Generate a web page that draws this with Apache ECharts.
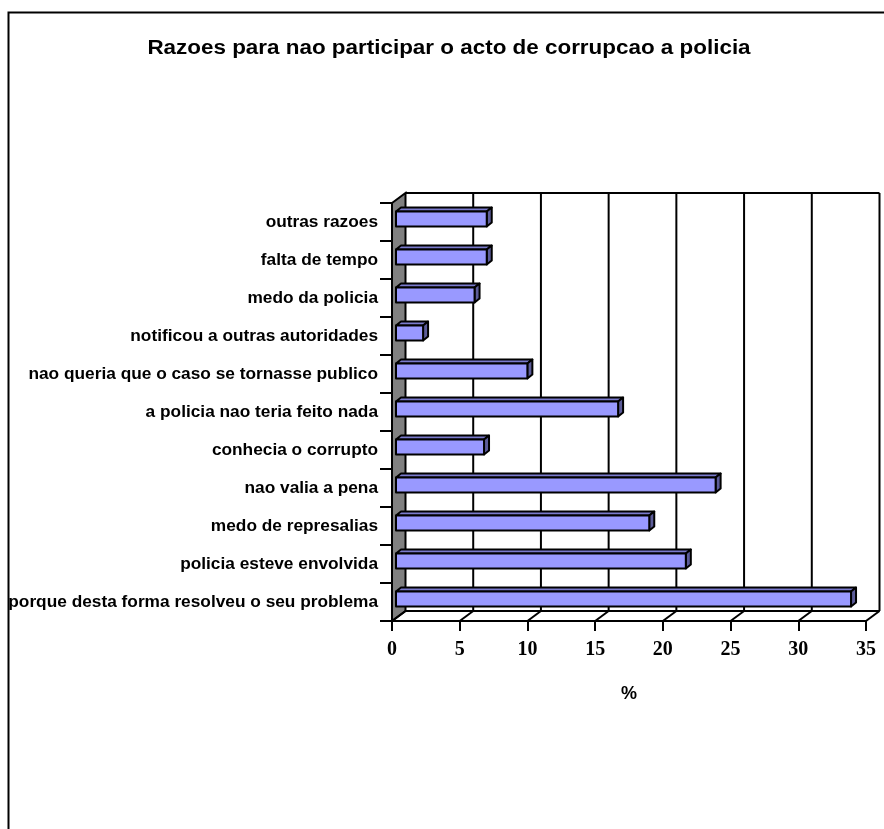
<!DOCTYPE html>
<html>
<head>
<meta charset="utf-8">
<script src="https://cdn.jsdelivr.net/npm/echarts@6/dist/echarts.min.js"></script>
<style>
html,body{margin:0;padding:0;background:#fff;}
#chart{width:884px;height:829px;}
</style>
</head>
<body>
<div id="chart"></div>
<script>
// Categories, bottom to top
var categories = [
  'porque desta forma resolveu o seu problema',
  'policia esteve envolvida',
  'medo de represalias',
  'nao valia a pena',
  'conhecia o corrupto',
  'a policia nao teria feito nada',
  'nao queria que o caso se tornasse publico',
  'notificou a outras autoridades',
  'medo da policia',
  'falta de tempo',
  'outras razoes'
];
var percentValues = [33.6, 21.4, 18.7, 23.6, 6.5, 16.4, 9.7, 2.0, 5.8, 6.7, 6.7];
var xTicks = [0, 5, 10, 15, 20, 25, 30, 35];
var titleText = 'Razoes para nao participar o acto de corrupcao a policia';
var xAxisName = '%';

var chart = echarts.init(document.getElementById('chart'), null, {renderer: 'canvas'});

var DX = 13.5, DY = -10;       // depth of the 3D box
var BDX = 4, BDY = -3;         // bar front-face offset
var BH = 15;                   // bar face height
var BD_X = 5, BD_Y = -4;       // bar depth

function renderWalls(params, api) {
  var cs = params.coordSys;
  var top = cs.y, bot = cs.y + cs.height;
  var x0 = api.coord([xTicks[0], 0])[0];
  var xN = api.coord([xTicks[xTicks.length - 1], 0])[0];
  var line = {stroke: '#000', lineWidth: 2};
  var children = [];
  children.push({
    type: 'polygon',
    shape: {points: [[x0, top], [x0 + DX, top + DY], [x0 + DX, bot + DY], [x0, bot]]},
    style: {fill: '#808080', stroke: '#000', lineWidth: 2}
  });
  children.push({type: 'line', shape: {x1: x0 + DX, y1: top + DY, x2: xN + DX, y2: top + DY}, style: line});
  children.push({type: 'line', shape: {x1: x0 + DX, y1: bot + DY, x2: xN + DX, y2: bot + DY}, style: line});
  xTicks.forEach(function (v) {
    var x = api.coord([v, 0])[0];
    if (v !== xTicks[0]) {
      children.push({type: 'line', shape: {x1: x + DX, y1: top + DY, x2: x + DX, y2: bot + DY}, style: line});
    }
    children.push({type: 'line', shape: {x1: x, y1: bot, x2: x + DX, y2: bot + DY}, style: line});
  });
  return {type: 'group', children: children};
}

function renderBar(params, api) {
  var val = api.value(0), idx = api.value(1);
  var p0 = api.coord([0, idx]);
  var p1 = api.coord([val, idx]);
  var xa = p0[0] + BDX, xb = p1[0] + BDX;
  var yc = p0[1] + BDY;
  var yt = yc - BH / 2, yb = yc + BH / 2;
  var st = {stroke: '#000', lineWidth: 2, lineJoin: 'round'};
  return {
    type: 'group',
    children: [
      {type: 'polygon', shape: {points: [[xa, yt], [xa + BD_X, yt + BD_Y], [xb + BD_X, yt + BD_Y], [xb, yt]]},
        style: Object.assign({fill: '#7a7acc'}, st)},
      {type: 'polygon', shape: {points: [[xb, yt], [xb + BD_X, yt + BD_Y], [xb + BD_X, yb + BD_Y], [xb, yb]]},
        style: Object.assign({fill: '#5c5c99'}, st)},
      {type: 'rect', shape: {x: xa, y: yt, width: xb - xa, height: BH},
        style: Object.assign({fill: '#9999ff'}, st)}
    ]
  };
}

var option = {
  backgroundColor: '#ffffff',
  animation: false,
  graphic: [
    {type: 'rect', shape: {x: 8.5, y: 12.5, width: 1000, height: 1000},
      style: {fill: 'none', stroke: '#000', lineWidth: 2}, z: 100},
    {type: 'text', x: 449, y: 49, scaleX: 1.15,
      style: {text: titleText, fontFamily: 'Liberation Sans, Arial, sans-serif', fontWeight: 'bold',
        fontSize: 19.5, fill: '#000', textAlign: 'center', textVerticalAlign: 'middle'}}
  ],
  grid: {left: 392, right: 18, top: 203, bottom: 208, containLabel: false, outerBoundsMode: 'none'},
  xAxis: {
    type: 'value', min: 0, max: 35, interval: 5,
    axisLine: {show: true, lineStyle: {color: '#000', width: 2}},
    axisTick: {show: true, length: 10, lineStyle: {color: '#000', width: 2}},
    splitLine: {show: false},
    axisLabel: {color: '#000', fontFamily: 'Liberation Serif, Times New Roman, serif', fontWeight: 'bold',
      fontSize: 20, margin: 19},
    name: xAxisName, nameLocation: 'middle', nameGap: 64,
    nameTextStyle: {color: '#000', fontFamily: 'Liberation Sans, Arial, sans-serif', fontWeight: 'bold', fontSize: 18}
  },
  yAxis: {
    type: 'category', data: categories,
    axisLine: {show: true, lineStyle: {color: '#000', width: 2}},
    axisTick: {show: true, length: 12, lineStyle: {color: '#000', width: 2}},
    splitLine: {show: false},
    axisLabel: {color: '#000', fontFamily: 'Liberation Sans, Arial, sans-serif', fontWeight: 'bold',
      fontSize: 17.3, margin: 14}
  },
  series: [
    {type: 'custom', renderItem: renderWalls, data: [[0, 0]], z: 1, silent: true,
      encode: {x: 0, y: 1}, clip: false},
    {type: 'custom', renderItem: renderBar, z: 5, clip: false,
      data: percentValues.map(function (v, i) { return [v, i]; }),
      encode: {x: 0, y: 1}}
  ]
};
chart.setOption(option);
</script>
</body>
</html>
